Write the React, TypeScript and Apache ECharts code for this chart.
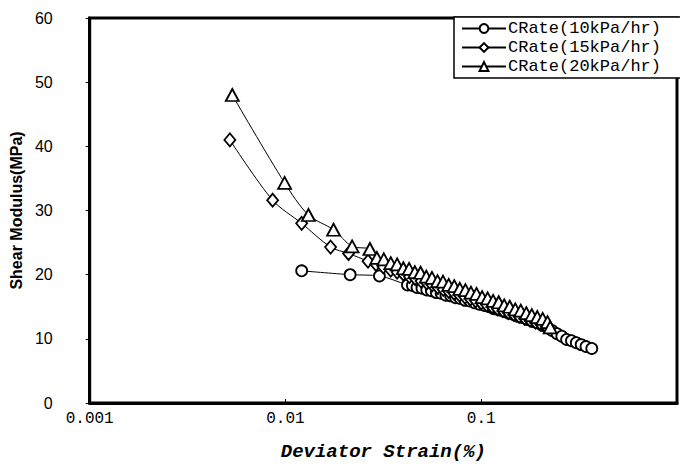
import React, { useEffect, useRef } from "react";
import * as echarts from "echarts";

const seriesNames = ["CRate(10kPa/hr)", "CRate(15kPa/hr)", "CRate(20kPa/hr)"];

const strain10 = [0.0121, 0.0214, 0.0302, 0.042, 0.0445, 0.047, 0.0498, 0.0527, 0.0556, 0.059, 0.0624, 0.066, 0.0698, 0.074, 0.0782, 0.0828, 0.0876, 0.0928, 0.098, 0.104, 0.11, 0.116, 0.123, 0.13, 0.138, 0.146, 0.154, 0.163, 0.173, 0.183, 0.193, 0.205, 0.217, 0.23, 0.244, 0.258, 0.273, 0.289, 0.306, 0.324, 0.343, 0.367];
const modulus10 = [20.6, 20.0, 19.8, 18.4, 18.3, 18.0, 17.9, 17.6, 17.5, 17.2, 17.1, 16.8, 16.7, 16.4, 16.3, 16.0, 15.9, 15.6, 15.4, 15.2, 15.0, 14.7, 14.5, 14.3, 14.0, 13.8, 13.5, 13.3, 13.0, 12.7, 12.5, 12.1, 11.8, 11.3, 10.8, 10.4, 9.9, 9.7, 9.4, 9.1, 8.8, 8.5];

const strain15 = [0.0052, 0.0086, 0.0121, 0.017, 0.021, 0.0264, 0.029, 0.0316, 0.0345, 0.0372, 0.04, 0.043, 0.046, 0.0493, 0.0527, 0.0562, 0.06, 0.064, 0.0682, 0.0727, 0.0775, 0.0826, 0.088, 0.0938, 0.1, 0.1066, 0.1136, 0.121, 0.129, 0.1375, 0.1466, 0.1562, 0.1665, 0.1775, 0.1892, 0.2016, 0.215];
const modulus15 = [41.0, 31.6, 28.0, 24.3, 23.3, 22.1, 21.6, 21.2, 20.7, 20.4, 20.1, 19.7, 19.4, 19.0, 18.7, 18.4, 18.0, 17.7, 17.4, 17.1, 16.8, 16.5, 16.2, 15.9, 15.6, 15.3, 15.0, 14.7, 14.4, 14.1, 13.8, 13.5, 13.2, 12.9, 12.6, 12.3, 11.9];

const strain20 = [0.00535, 0.0099, 0.0131, 0.0176, 0.0219, 0.027, 0.0293, 0.0318, 0.0345, 0.0372, 0.04, 0.0428, 0.0458, 0.049, 0.0524, 0.056, 0.0598, 0.0638, 0.0682, 0.0728, 0.0777, 0.083, 0.0886, 0.0946, 0.101, 0.1078, 0.115, 0.1228, 0.131, 0.1398, 0.1492, 0.1592, 0.17, 0.1812, 0.1934, 0.206, 0.218, 0.225];
const modulus20 = [48.0, 34.3, 29.3, 27.0, 24.4, 24.0, 22.6, 22.4, 21.8, 21.6, 21.0, 20.9, 20.4, 20.3, 19.7, 19.5, 19.0, 18.9, 18.4, 18.2, 17.8, 17.6, 17.2, 17.0, 16.5, 16.3, 15.9, 15.7, 15.2, 15.0, 14.6, 14.4, 14.0, 13.7, 13.4, 13.1, 12.6, 11.8];

const symbols = ["circle", "diamond", "triangle"];
const symbolSizes: any[] = [11, [11, 13], [13, 12]];

export default function App() {
  const ref = useRef<HTMLDivElement>(null);
  useEffect(() => {
    if (!ref.current) return;
    const chart = echarts.init(ref.current, null, { renderer: "svg" });
    const xs = [strain10, strain15, strain20];
    const ys = [modulus10, modulus15, modulus20];
    chart.setOption({
      animation: false,
      backgroundColor: "#fff",
      grid: {
        left: 88,
        right: -4,
        top: 18,
        bottom: 67,
        show: true,
        borderColor: "#000",
        borderWidth: 3,
        backgroundColor: "transparent",
      },
      legend: {
        orient: "vertical",
        left: 454,
        top: 17,
        data: seriesNames,
        itemWidth: 44,
        itemHeight: 11,
        itemGap: 2,
        padding: [3, 40, 3, 7],
        borderColor: "#000",
        borderWidth: 1.5,
        backgroundColor: "#fff",
        textStyle: { fontFamily: "Liberation Mono", fontSize: 17, lineHeight: 16, color: "#000", padding: [0, 0, 0, -3] },
      },
      xAxis: {
        type: "log",
        logBase: 10,
        min: 0.001,
        max: 1,
        name: "Deviator Strain(%)",
        nameLocation: "middle",
        nameGap: 39,
        nameTextStyle: { fontFamily: "Liberation Mono", fontSize: 19, fontWeight: "bold", fontStyle: "italic", color: "#000" },
        axisLine: { lineStyle: { color: "#000", width: 3 } },
        axisTick: { inside: true, length: 4, lineStyle: { color: "#000", width: 1 } },
        minorTick: { show: false },
        splitLine: { show: false },
        axisLabel: {
          color: "#000",
          fontFamily: "Liberation Mono",
          fontSize: 16,
          margin: 8,
          formatter: (v: number) => (v >= 1 ? "" : String(Number(v.toPrecision(1)))),
        },
      },
      yAxis: {
        type: "value",
        min: 0,
        max: 60,
        interval: 10,
        name: "Shear Modulus(MPa)",
        nameLocation: "middle",
        nameGap: 61,
        nameTextStyle: { fontFamily: "Liberation Sans", fontSize: 16, fontWeight: "bold", color: "#000" },
        axisLine: { lineStyle: { color: "#000", width: 3 } },
        axisTick: { length: 4, lineStyle: { color: "#000", width: 1 } },
        splitLine: { show: false },
        axisLabel: { color: "#000", fontFamily: "Liberation Sans", fontSize: 16, margin: 37 },
      },
      series: seriesNames.map((name, i) => ({
        name,
        type: "line",
        smooth: 0.3,
        symbol: symbols[i],
        symbolSize: symbolSizes[i],
        showAllSymbol: true,
        data: xs[i].map((x, j) => [x, ys[i][j]]),
        lineStyle: { color: "#000", width: 1 },
        itemStyle: { color: "#fff", borderColor: "#000", borderWidth: 1.8 },
      })),
    });
    return () => chart.dispose();
  }, []);
  return <div ref={ref} style={{ position: "absolute", left: 0, top: 0, width: 680, height: 470 }} />;
}
